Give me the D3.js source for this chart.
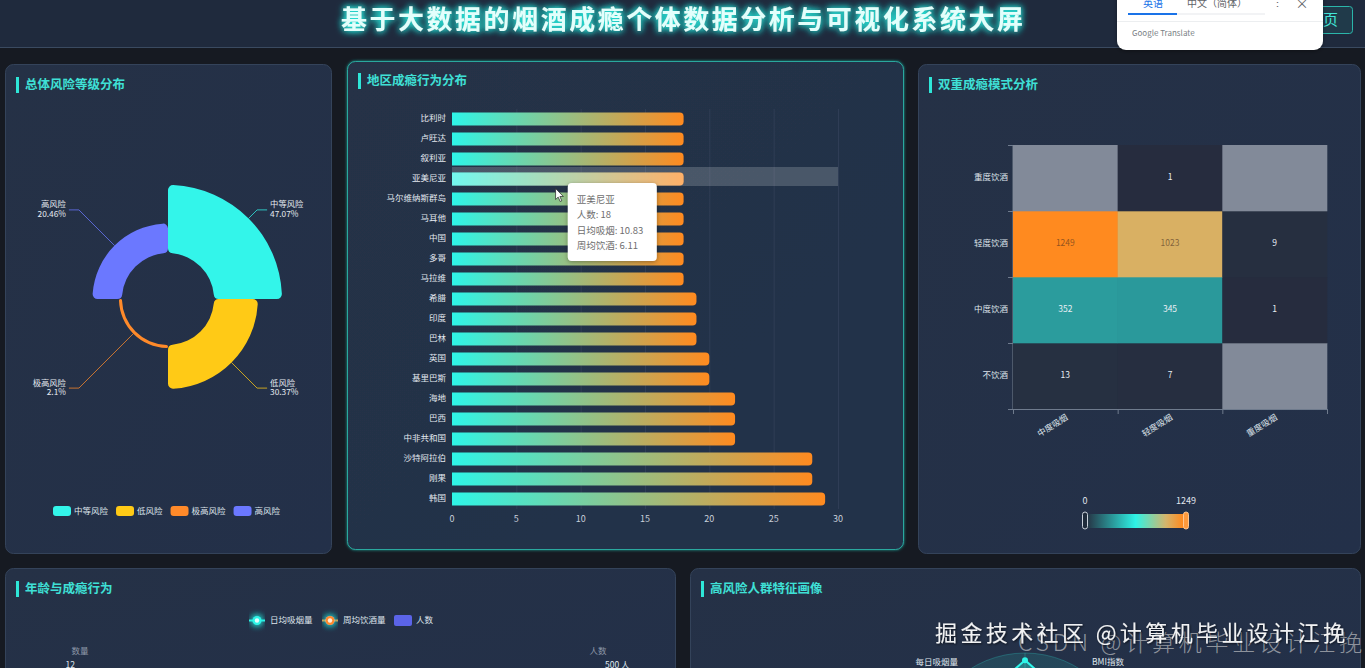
<!DOCTYPE html>
<html><head><meta charset="utf-8">
<script src="https://cdn.jsdelivr.net/npm/d3@7"></script>
<style>
html,body{margin:0;padding:0;background:#161a22;overflow:hidden;width:1365px;height:668px;}
svg{display:block;font-family:"Noto Sans CJK SC","Noto Sans",sans-serif;}
</style></head><body>
<svg id="c" width="1365" height="668"></svg>
<script>
// ---------------- data ----------------
const pageTitle = "基于大数据的烟酒成瘾个体数据分析与可视化系统大屏";
const panelTitles = ["总体风险等级分布","地区成瘾行为分布","双重成瘾模式分析","年龄与成瘾行为","高风险人群特征画像"];

const riskLevels = ["中等风险","低风险","极高风险","高风险"];
const riskPercents = [47.07, 30.37, 2.1, 20.46];
const riskColors = ["#33f5ea","#ffca16","#ff8a2a","#6b78ff"];

const regions = ["比利时","卢旺达","叙利亚","亚美尼亚","马尔维纳斯群岛","马耳他","中国","多哥","马拉维","希腊","印度","巴林","英国","基里巴斯","海地","巴西","中非共和国","沙特阿拉伯","刚果","韩国"];
const regionCounts = [18,18,18,18,18,18,18,18,18,19,19,19,20,20,22,22,22,28,28,29];
const regionTicks = [0,5,10,15,20,25,30];
const tooltipRegion = "亚美尼亚";
const tooltipCount = 18;
const tooltipSmoke = 10.83;
const tooltipDrink = 6.11;

const smokeLevels = ["中度吸烟","轻度吸烟","重度吸烟"];
const drinkLevels = ["不饮酒","中度饮酒","轻度饮酒","重度饮酒"];
// rows follow drinkLevels, columns follow smokeLevels (null = no data)
const heatNone  = [13, 7, null];
const heatMid   = [352, 345, 1];
const heatLight = [1249, 1023, 9];
const heatHeavy = [null, 1, null];
const heatMax = 1249;
const heatStops = [0, 0.5, 0.8, 0.97];
const heatColors = ["#262c3e","#2ef2e6","#d4b56c","#ff8a1f"];

const ageLegend = ["日均吸烟量","周均饮酒量","人数"];
const ageLegendColors = ["#2ef5e8","#ff8a2a","#5b64e8"];
const ageLeftTicks = [0,3,6,9,12];
const ageRightTicks = [0,125,250,375,500];

const radarIndicators = ["年龄","每日吸烟量","每周饮酒量","吸烟年限","饮酒年限","睡眠时长","运动频率","压力水平","心理健康","BMI指数"];
const radarValues = [93,70,62,58,55,50,55,58,62,70];

const watermark1 = "掘金技术社区 @计算机毕业设计江挽";
const watermark2 = "CSDN @计算机毕业设计江挽";

// ---------------- setup ----------------
const svg = d3.select("#c");
const defs = svg.append("defs");
function glowFilter(id, color, std, twice){
  const f = defs.append("filter").attr("id",id).attr("x","-30%").attr("y","-80%").attr("width","160%").attr("height","260%");
  f.append("feGaussianBlur").attr("in","SourceAlpha").attr("stdDeviation",std).attr("result","b");
  f.append("feFlood").attr("flood-color",color).attr("result","c");
  f.append("feComposite").attr("in","c").attr("in2","b").attr("operator","in").attr("result","g");
  const m = f.append("feMerge");
  m.append("feMergeNode").attr("in","g");
  if(twice) m.append("feMergeNode").attr("in","g");
  m.append("feMergeNode").attr("in","SourceGraphic");
}
glowFilter("glow","#27e8dc",3.5,true);
glowFilter("pglow","#1f9c93",1.5,false);
const sh = defs.append("filter").attr("id","shadow").attr("x","-20%").attr("y","-20%").attr("width","140%").attr("height","150%");
sh.append("feDropShadow").attr("dx",0).attr("dy",1).attr("stdDeviation",2).attr("flood-color","#000").attr("flood-opacity",0.35);
const wsh = defs.append("filter").attr("id","wshadow").attr("x","-5%").attr("y","-30%").attr("width","110%").attr("height","160%");
wsh.append("feDropShadow").attr("dx",1).attr("dy",1).attr("stdDeviation",1).attr("flood-color","#000").attr("flood-opacity",0.7);

const barGrad = defs.append("linearGradient").attr("id","barGrad").attr("x1",0).attr("y1",0).attr("x2",1).attr("y2",0);
barGrad.append("stop").attr("offset","0%").attr("stop-color","#2ef5e8");
barGrad.append("stop").attr("offset","100%").attr("stop-color","#ff8a1f");

const panelGrad = defs.append("linearGradient").attr("id","panelGrad").attr("x1",0).attr("y1",0).attr("x2",1).attr("y2",1);
panelGrad.append("stop").attr("offset","0%").attr("stop-color","#253146");
panelGrad.append("stop").attr("offset","100%").attr("stop-color","#233049");

// ---------------- header ----------------
svg.append("rect").attr("x",0).attr("y",0).attr("width",1365).attr("height",47).attr("fill","#1f2a3d");
svg.append("line").attr("x1",0).attr("x2",1365).attr("y1",47.5).attr("y2",47.5).attr("stroke","#3a4a60");
svg.append("text").attr("x",341).attr("y",22).attr("dominant-baseline","middle")
  .attr("textLength",682).attr("lengthAdjust","spacing")
  .attr("font-size",26).attr("font-weight","bold").attr("fill","#e2fffc")
  .attr("filter","url(#glow)").text(pageTitle);
// 首页 button (partly behind translate popup)
svg.append("rect").attr("x",1290.5).attr("y",6.5).attr("width",62).attr("height",27).attr("rx",3)
  .attr("fill","rgba(42,181,170,0.12)").attr("stroke","#2bb5aa");
svg.append("text").attr("x",1323).attr("y",21).attr("text-anchor","middle").attr("dominant-baseline","middle")
  .attr("font-size",15).attr("fill","#43e6da").text("首页");

// ---------------- panels ----------------
const panels = [
  {x:5,y:64,w:326,h:489},
  {x:347,y:61,w:556,h:488,hi:true},
  {x:918,y:64,w:442,h:489},
  {x:5,y:568,w:670,h:140},
  {x:690,y:568,w:670,h:140}
];
panels.forEach((p,i)=>{
  svg.append("rect").attr("x",p.x+0.5).attr("y",p.y+0.5).attr("width",p.w).attr("height",p.h).attr("rx",8)
    .attr("fill","url(#panelGrad)").attr("stroke",p.hi?"#2aa89e":"#34435a").attr("stroke-width",1)
    .attr("filter",p.hi?"url(#pglow)":null);
  const ty = p.y + (p.hi?20:21);
  svg.append("rect").attr("x",p.x+11).attr("y",ty-8).attr("width",3).attr("height",16).attr("fill","#2ee6d8");
  svg.append("text").attr("x",p.x+20).attr("y",ty+0.5).attr("dominant-baseline","middle")
    .attr("font-size",12.5).attr("font-weight","bold").attr("fill","#3fe0d6").text(panelTitles[i]);
});

// ---------------- pie (rose) ----------------
(function(){
  const cx = 168, cy = 299, r0 = 46, rMax = 114;
  const g = svg.append("g").attr("transform",`translate(${cx},${cy})`);
  const rScale = d3.scaleLinear().domain([0, d3.max(riskPercents)]).range([r0, rMax]);
  const pieData = d3.pie().value(()=>1).sort(null)(riskPercents);
  const arc = d3.arc().cornerRadius(5);
  g.selectAll("path.s").data(pieData).join("path").attr("class","s")
    .attr("d", d => arc({innerRadius:r0, outerRadius:rScale(d.data), startAngle:d.startAngle, endAngle:d.endAngle}))
    .attr("fill",(d,i)=>riskColors[i]);
  pieData.forEach((d,i)=>{
    const a = (d.startAngle+d.endAngle)/2;
    const sx = Math.sin(a), sy = -Math.cos(a);
    const r = rScale(d.data);
    const p0 = [sx*r, sy*r], p1 = [sx*(rMax+12), sy*(rMax+12)];
    const right = sx > 0;
    const p2 = [p1[0] + (right?10:-10), p1[1]];
    g.append("polyline").attr("points",[p0,p1,p2].map(p=>p.join(",")).join(" "))
      .attr("fill","none").attr("stroke",riskColors[i]).attr("stroke-opacity",0.75).attr("stroke-width",1);
    const tx = p2[0]+(right?3:-3);
    const anchor = right?"start":"end";
    g.append("text").attr("x",tx).attr("y",p2[1]-4.7).attr("text-anchor",anchor).attr("dominant-baseline","middle")
      .attr("font-size",8.3).attr("fill","#e6ebf1").text(riskLevels[i]);
    g.append("text").attr("x",tx).attr("y",p2[1]+4.7).attr("text-anchor",anchor).attr("dominant-baseline","middle")
      .attr("font-size",8.3).attr("fill","#e6ebf1").text(d.data+"%");
  });
  // legend
  let lx = 53;
  riskLevels.forEach((name,i)=>{
    svg.append("rect").attr("x",lx).attr("y",506).attr("width",18).attr("height",10).attr("rx",3).attr("fill",riskColors[i]);
    const t = svg.append("text").attr("x",lx+21).attr("y",511.5).attr("dominant-baseline","middle")
      .attr("font-size",8.5).attr("fill","#dfe5ec").text(name);
    lx += 21 + t.node().getComputedTextLength() + 8;
  });
})();

// ---------------- horizontal bar ----------------
(function(){
  const x = d3.scaleLinear().domain([0,30]).range([452,838]);
  const y = d3.scaleBand().domain(regions).range([109,509]).paddingInner(0.35).paddingOuter(0.175);
  const g = svg.append("g");
  g.selectAll("line.grid").data(regionTicks.slice(1)).join("line").attr("class","grid")
    .attr("x1",d=>x(d)+0.5).attr("x2",d=>x(d)+0.5).attr("y1",109).attr("y2",509)
    .attr("stroke","#3a4760").attr("stroke-opacity",0.55);
  const step = y.step();
  g.append("rect").attr("x",x(0)).attr("width",x(30)-x(0))
    .attr("y",y(tooltipRegion)-step*0.175-2).attr("height",step-1)
    .attr("fill","rgba(255,255,255,0.18)");
  const bw = y.bandwidth();
  const barPath = (v,name)=>{
    const x0 = x(0), x1 = x(v), y0 = y(name), h = bw, r = 4;
    return `M${x0},${y0}H${x1-r}Q${x1},${y0} ${x1},${y0+r}V${y0+h-r}Q${x1},${y0+h} ${x1-r},${y0+h}H${x0}Z`;
  };
  g.selectAll("path.bar").data(regions).join("path").attr("class","bar")
    .attr("d",(d,i)=>barPath(regionCounts[i],d)).attr("fill","url(#barGrad)");
  const hi = regions.indexOf(tooltipRegion);
  g.append("path").attr("d",barPath(regionCounts[hi],tooltipRegion)).attr("fill","rgba(255,255,255,0.33)");
  g.selectAll("text.yl").data(regions).join("text").attr("class","yl")
    .attr("x",446).attr("y",d=>y(d)+bw/2).attr("text-anchor","end").attr("dominant-baseline","middle")
    .attr("font-size",8.5).attr("fill","#e3e8ef").text(d=>d);
  g.selectAll("text.xl").data(regionTicks).join("text").attr("class","xl")
    .attr("x",d=>x(d)).attr("y",520).attr("text-anchor","middle").attr("dominant-baseline","middle")
    .attr("font-size",9).attr("fill","#c8d0da").text(d=>d);
  // tooltip
  const tx = x(9), ty = y(tooltipRegion)+bw-2.5;
  const tg = svg.append("g").attr("transform",`translate(${tx},${ty})`);
  tg.append("rect").attr("width",89).attr("height",78).attr("rx",4).attr("fill","#ffffff").attr("filter","url(#shadow)");
  const lines = [tooltipRegion, "人数: "+tooltipCount, "日均吸烟: "+tooltipSmoke, "周均饮酒: "+tooltipDrink];
  tg.selectAll("text").data(lines).join("text").attr("x",9).attr("y",(d,i)=>17+i*15.5)
    .attr("dominant-baseline","middle").attr("font-size",9.5).attr("fill","#6e6e6e").text(d=>d);
  svg.append("path").attr("transform",`translate(${x(8.05)},${y(tooltipRegion)+16})`)
    .attr("d","M0,0 L0,11 L2.6,8.6 L4.6,13 L6.2,12.3 L4.3,8 L7.8,8 Z")
    .attr("fill","#ffffff").attr("stroke","#222").attr("stroke-width",0.7);
})();

// ---------------- heatmap ----------------
(function(){
  const x = d3.scaleBand().domain(smokeLevels).range([1013,1327]);
  const y = d3.scaleBand().domain(drinkLevels).range([409,145]);
  const color = d3.scaleLinear().domain(heatStops.map(s=>s*heatMax)).range(heatColors).clamp(true);
  const rows = [heatNone, heatMid, heatLight, heatHeavy];
  const cells = [];
  rows.forEach((row,ri)=>row.forEach((v,ci)=>cells.push({s:smokeLevels[ci], d:drinkLevels[ri], v})));
  const g = svg.append("g");
  g.selectAll("rect.cell").data(cells).join("rect").attr("class","cell")
    .attr("x",d=>x(d.s)).attr("y",d=>y(d.d)).attr("width",x.bandwidth()+0.3).attr("height",y.bandwidth()+0.3)
    .attr("fill",d=>d.v==null?"#828a99":color(d.v));
  g.selectAll("text.cv").data(cells.filter(d=>d.v!=null)).join("text").attr("class","cv")
    .attr("x",d=>x(d.s)+x.bandwidth()/2).attr("y",d=>y(d.d)+y.bandwidth()/2)
    .attr("text-anchor","middle").attr("dominant-baseline","middle").attr("font-size",8.5)
    .attr("fill",d=>d3.hsl(color(d.v)).l>0.55?"rgba(70,45,30,0.6)":"#e8eef4").text(d=>d.v);
  g.append("line").attr("x1",1013).attr("x2",1327).attr("y1",409.5).attr("y2",409.5).attr("stroke","#6f7b8d");
  g.append("line").attr("x1",1012.5).attr("x2",1012.5).attr("y1",145).attr("y2",409).attr("stroke","#4d596b");
  const xb = smokeLevels.map(s=>x(s)).concat([1327]);
  g.selectAll("line.xt").data(xb).join("line").attr("class","xt")
    .attr("x1",d=>d+0.5).attr("x2",d=>d+0.5).attr("y1",409).attr("y2",414).attr("stroke","#6f7b8d");
  const yb = drinkLevels.map(d=>y(d)).concat([409]);
  g.selectAll("line.yt").data(yb).join("line").attr("class","yt")
    .attr("x1",1008).attr("x2",1013).attr("y1",d=>d+0.5).attr("y2",d=>d+0.5).attr("stroke","#6f7b8d");
  g.selectAll("text.yl").data(drinkLevels).join("text").attr("class","yl")
    .attr("x",1008).attr("y",d=>y(d)+y.bandwidth()/2).attr("text-anchor","end").attr("dominant-baseline","middle")
    .attr("font-size",8.5).attr("fill","#dde3ea").text(d=>d);
  g.selectAll("text.xl").data(smokeLevels).join("text").attr("class","xl")
    .attr("transform",d=>`translate(${x(d)+x.bandwidth()/2+2},${417}) rotate(-32)`)
    .attr("text-anchor","end").attr("dominant-baseline","middle")
    .attr("font-size",8.5).attr("fill","#dde3ea").text(d=>d);
  // visual map
  const vg = defs.append("linearGradient").attr("id","vmGrad").attr("x1",0).attr("y1",0).attr("x2",1).attr("y2",0);
  heatStops.forEach((s,i)=>vg.append("stop").attr("offset",(s*100)+"%").attr("stop-color",heatColors[i]));
  vg.append("stop").attr("offset","100%").attr("stop-color",heatColors[heatColors.length-1]);
  const vx = d3.scaleLinear().domain([0,heatMax]).range([1085,1186]);
  g.append("rect").attr("x",vx(0)).attr("y",514).attr("width",vx(heatMax)-vx(0)).attr("height",14).attr("fill","url(#vmGrad)");
  g.append("rect").attr("x",vx(0)-2.5).attr("y",512).attr("width",5).attr("height",17).attr("rx",2.5)
    .attr("fill","#1f2b3b").attr("stroke","#c9d0da").attr("stroke-width",1);
  g.append("rect").attr("x",vx(heatMax)-2.5).attr("y",512).attr("width",5).attr("height",17).attr("rx",2.5)
    .attr("fill","#ff9a3c").attr("stroke","#ffc690").attr("stroke-width",1);
  g.selectAll("text.vl").data([0,heatMax]).join("text").attr("class","vl")
    .attr("x",d=>vx(d)).attr("y",502).attr("text-anchor","middle").attr("dominant-baseline","middle")
    .attr("font-size",9).attr("fill","#e0e6ee").text(d=>d);
})();

// ---------------- age chart (top part visible) ----------------
(function(){
  const icons = [
    {x:257,type:"line"},{x:330,type:"line"},{x:403,type:"rect"}
  ];
  ageLegend.forEach((name,i)=>{
    const ic = icons[i], c = ageLegendColors[i];
    if(ic.type==="line"){
      svg.append("line").attr("x1",ic.x-8).attr("x2",ic.x+8).attr("y1",620.5).attr("y2",620.5).attr("stroke",c).attr("stroke-width",2);
      svg.append("circle").attr("cx",ic.x).attr("cy",620.5).attr("r",4.5).attr("fill",c).attr("filter","url(#glow)");
      svg.append("circle").attr("cx",ic.x).attr("cy",620.5).attr("r",2.2).attr("fill","#ffffff").attr("opacity",0.85);
    } else {
      svg.append("rect").attr("x",ic.x-9).attr("y",615).attr("width",18).attr("height",11).attr("rx",2).attr("fill",c);
    }
    svg.append("text").attr("x",ic.x+13).attr("y",620.5).attr("dominant-baseline","middle")
      .attr("font-size",8.5).attr("fill","#dfe5ec").text(name);
  });
  const yl = d3.scaleLinear().domain([0,d3.max(ageLeftTicks)]).range([900,666]);
  const yr = d3.scaleLinear().domain([0,d3.max(ageRightTicks)]).range([900,666]);
  svg.append("text").attr("x",80).attr("y",652).attr("text-anchor","middle").attr("dominant-baseline","middle")
    .attr("font-size",8.5).attr("fill","#8e98a8").text("数量");
  svg.append("text").attr("x",598).attr("y",652).attr("text-anchor","middle").attr("dominant-baseline","middle")
    .attr("font-size",8.5).attr("fill","#8e98a8").text("人数");
  svg.selectAll("text.al").data(ageLeftTicks).join("text").attr("class","al")
    .attr("x",75).attr("y",d=>yl(d)).attr("text-anchor","end").attr("dominant-baseline","middle")
    .attr("font-size",8.5).attr("fill","#dfe5ec").text(d=>d);
  svg.selectAll("text.ar").data(ageRightTicks).join("text").attr("class","ar")
    .attr("x",605).attr("y",d=>yr(d)).attr("text-anchor","start").attr("dominant-baseline","middle")
    .attr("font-size",8.5).attr("fill","#dfe5ec").text(d=>d+" 人");
})();

// ---------------- radar (top part visible) ----------------
(function(){
  const cx = 1025, cy = 755, R = 102, n = radarIndicators.length;
  const g = svg.append("g").attr("transform",`translate(${cx},${cy})`);
  const rs = d3.scaleLinear().domain([0,100]).range([0,R]);
  const ang = i => -i*2*Math.PI/n; // counter-clockwise from top
  [1,0.8,0.6,0.4,0.2].forEach((f,i)=>{
    g.append("circle").attr("r",R*f).attr("fill",i%2===0?"rgba(46,230,220,0.13)":"rgba(46,230,220,0.06)")
      .attr("stroke","rgba(46,230,220,0.25)");
  });
  radarIndicators.forEach((name,i)=>{
    const a = ang(i), sx = Math.sin(a), sy = -Math.cos(a);
    g.append("line").attr("x1",0).attr("y1",0).attr("x2",sx*R).attr("y2",sy*R).attr("stroke","rgba(46,230,220,0.25)");
    if(i===0) return; // top name lies under the watermark in the reference
    const lr = R + 12;
    g.append("text").attr("x",sx*lr).attr("y",sy*lr)
      .attr("text-anchor",sx<0?"end":"start").attr("dominant-baseline","middle")
      .attr("font-size",8.5).attr("fill","#dfe5ec").text(name);
  });
  const line = d3.lineRadial().angle((d,i)=>ang(i)).radius(d=>rs(d)).curve(d3.curveLinearClosed);
  g.append("path").attr("d",line(radarValues)).attr("fill","rgba(46,245,232,0.3)").attr("stroke","#2ef5e8").attr("stroke-width",2);
  radarValues.forEach((v,i)=>{
    const a = ang(i);
    g.append("circle").attr("cx",Math.sin(a)*rs(v)).attr("cy",-Math.cos(a)*rs(v)).attr("r",3).attr("fill","#2ef5e8");
  });
})();

// ---------------- watermarks ----------------
svg.append("text").attr("x",1018).attr("y",651).attr("textLength",344).attr("lengthAdjust","spacing")
  .attr("font-size",23).attr("font-weight",300).attr("fill","rgba(215,215,215,0.6)").text(watermark2);
svg.append("text").attr("x",935).attr("y",641).attr("textLength",410).attr("lengthAdjust","spacing")
  .attr("font-size",22).attr("fill","rgba(255,255,255,0.92)").attr("filter","url(#wshadow)").text(watermark1);

// ---------------- translate popup ----------------
(function(){
  const g = svg.append("g");
  g.append("rect").attr("x",1117).attr("y",-12).attr("width",206).attr("height",62).attr("rx",9)
    .attr("fill","#ffffff").attr("filter","url(#shadow)");
  g.append("text").attr("x",1153).attr("y",4).attr("text-anchor","middle").attr("dominant-baseline","middle")
    .attr("font-size",10).attr("fill","#1a73e8").text("英语");
  g.append("rect").attr("x",1128).attr("y",13).attr("width",49).attr("height",2).attr("fill","#1a73e8");
  g.append("rect").attr("x",1177).attr("y",13.5).attr("width",88).attr("height",1).attr("fill","#e6e8eb");
  g.append("text").attr("x",1217).attr("y",4).attr("text-anchor","middle").attr("dominant-baseline","middle")
    .attr("font-size",10).attr("fill","#5f6368").text("中文（简体）");
  g.append("text").attr("x",1277).attr("y",4).attr("text-anchor","middle").attr("dominant-baseline","middle")
    .attr("font-size",11).attr("fill","#5f6368").text("⋮");
  g.append("text").attr("x",1302).attr("y",4).attr("text-anchor","middle").attr("dominant-baseline","middle")
    .attr("font-size",13).attr("fill","#5f6368").text("×");
  g.append("rect").attr("x",1117).attr("y",21).attr("width",206).attr("height",1).attr("fill","#eceef0");
  g.append("text").attr("x",1132).attr("y",34).attr("dominant-baseline","middle")
    .attr("font-size",8).attr("fill","#7a7f85").text("Google Translate");
})();
</script>
</body></html>
